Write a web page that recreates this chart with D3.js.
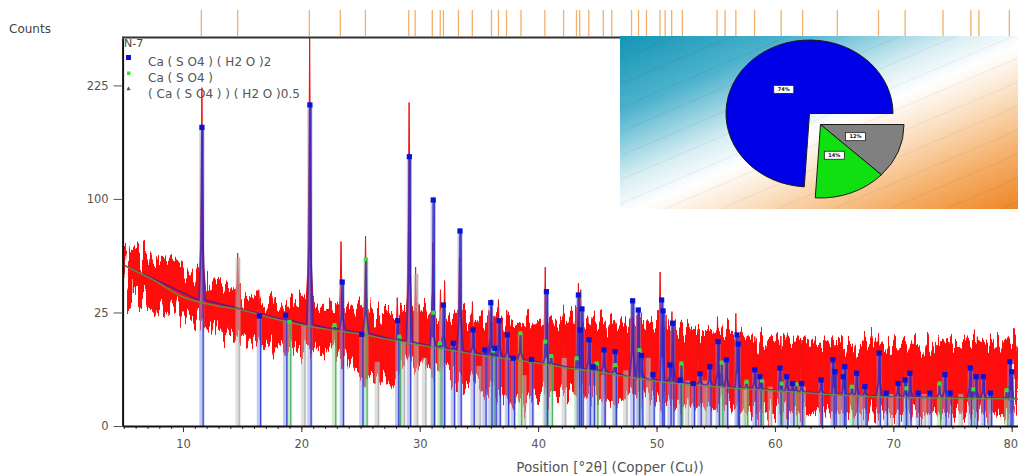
<!DOCTYPE html>
<html>
<head>
<meta charset="utf-8">
<script src="https://cdn.jsdelivr.net/npm/d3@7"></script>
<style>
  body { margin: 0; background: #fff; }
  svg { display: block; font-family: "DejaVu Sans", "Noto Sans", sans-serif; }
</style>
</head>
<body>
<svg id="chart" width="1018" height="476"></svg>
<script>
// ---------- data ----------
const yTicks = [0, 25, 100, 225];
const xTicks = [10, 20, 30, 40, 50, 60, 70, 80];

// reference pattern ticks (top strip), degrees 2theta
const refTicks = [11.55, 14.62, 20.67, 23.29, 25.41, 29.07, 29.61, 31.06, 31.73, 32.0, 33.27, 34.44,
  36.06, 36.65, 37.33, 38.55, 40.57, 42.15, 43.24, 43.51, 44.28, 45.5, 46.22, 47.89, 48.48, 49.15,
  50.29, 50.73, 51.28, 52.18, 55.11, 55.79, 56.7, 58.28, 60.53, 62.34, 65.27, 68.75, 71.0, 74.2,
  76.55, 77.23, 79.8];

// measured noise band: upper / lower edge (counts)
const envX = [4.9, ...d3.range(6, 80), 80.6];
const envTop = [63.6,60.1,56.7,54.8,52.2,50.3,47.2,41.4,38.6,35.9,
  33.3,31.8,30.8,29.4,28.4,30.8,28.4,27.0,28.4,26.1,
  28.4,25.2,22.6,22.6,25.2,27.0,26.1,25.2,23.9,22.6,
  22.6,21.8,21.0,21.8,21.0,21.8,21.0,21.8,22.6,21.8,
  21.0,19.8,21.0,21.8,19.8,21.0,19.8,18.6,17.9,17.9,
  17.1,17.9,16.1,15.0,14.4,15.0,14.4,14.4,13.7,12.7,
  14.4,13.7,12.7,14.4,13.7,12.7,13.4,12.7,12.1,14.4,
  12.7,13.7,14.4,13.4,13.7,14.4];
const envBot = [30.8,30.8,28.4,27.0,25.2,23.5,22.6,19.8,17.1,16.1,
  15.0,13.7,12.7,11.2,10.6,12.7,11.2,12.7,11.2,7.2,
  6.5,5.0,4.1,5.0,8.5,7.9,6.5,5.7,5.0,3.3,
  2.8,2.2,1.3,0.63,1.3,1.9,1.9,2.2,2.2,1.9,
  1.5,1.3,1.5,1.9,1.3,1.1,1.3,0.86,0.63,0.86,
  0.86,0.63,0.5,0.38,0.38,0.33,0.33,0.3,0.33,0.3,
  0.3,0.3,0.33,0.3,0.3,0.28,0.3,0.28,0.28,0.3,
  0.28,0.3,0.28,0.3,0.28,0.3];

// fitted background
const bgX = [4.9, 7.5, 10, 12.5, 15, 17.5, 20, 22.5, 25, 27.5, 30, 32.5, 35, 37.5, 40, 42.5, 45, 47.5, 50, 55, 60, 65, 70, 75, 80.6];
const bgY = [50.5, 41.4, 32.3, 28.4, 26.1, 22.6, 19.8, 17.9, 16.4, 14.4, 12.7, 11.2, 9.8, 8.7, 7.7, 6.5, 5.7, 4.7, 3.9, 3.0, 2.4, 1.9, 1.6, 1.5, 1.4];

// measured peak tops
const peakPos = [11.6,14.62,16.4,20.7,23.35,25.42,28.1,29.1,29.65,31.1,31.75,32.1,33.35,34.45,36.05,36.65,37.35,
  40.6,42.15,43.4,43.6,44.2,45.6,46.3,47.9,48.5,50.3,50.8,51.3,53.5,55.15,56.7,58.3,60.5,62.2,64.8,68.75,71.0,74.3,77.1,79.8];
const peakTop = [222,58,36,300,66,70,32,203,49,65,36,41,55,30,31,31,26,
  49,23,39.5,36,23,19,20,31.6,27,46,24,25.4,18,23.2,24.6,15.5,15.7,14.4,12.7,16.7,14,13.8,15.5,13.8];

// phase stick patterns
const gypsumPos = [11.6,16.45,18.67,20.72,23.45,25.1,28.13,29.12,31.14,32.0,32.83,33.4,34.5,35.5,36.0,36.35,36.7,37.4,37.9,39.45,
  40.7,43.4,43.55,43.7,44.3,44.65,45.56,46.5,47.98,48.46,48.74,49.7,50.43,50.55,51.13,51.36,51.98,53.1,53.67,54.5,
  55.2,55.9,56.8,56.9,58.3,58.73,60.42,61.0,61.5,62.25,63.9,64.9,65.07,65.77,65.9,66.9,67.6,68.8,69.4,70.4,
  71.0,71.4,72.1,73.1,74.36,74.8,76.5,77.0,77.6,78.2,79.85,80.0];
const gypsumInt = [173,23.5,23.8,200,40.2,16.3,21.5,140.7,99.1,28.4,13.3,73.8,17.9,11.2,29.5,11.7,21.5,16.1,8.9,8.6,
  35.0,33.3,17.9,26.6,14.4,6.8,11.2,10.7,30.4,26.1,9.6,5.1,30.8,25.7,7.2,20.5,4.1,3.5,5.3,6.8,
  13.8,8.5,16.1,13.0,6.1,4.7,6.5,4.7,3.5,3.5,4.1,8.5,5.7,4.7,6.8,5.4,3.0,10.3,2.1,3.5,
  4.1,5.4,2.1,2.1,5.1,2.1,6.5,4.7,4.7,2.1,8.0,5.7];
const anhydritePos = [19.0,22.8,25.45,28.27,31.14,31.7,36.2,38.5,40.6,41.1,43.25,44.94,46.5,48.55,52.1,55.5,57.6,58.9,60.57,61.8,66.5,71.1,73.9,76.75,79.57];
const anhydriteInt = [21.1,19.8,53.9,15.5,24.9,13.3,11.0,16.7,13.8,9.5,8.9,7.6,7.2,11.2,7.6,7.8,3.8,4.0,3.5,3.4,3.0,2.75,3.5,2.6,2.5];
const bassanitePos = [14.65,20.2,26.4,28.6,29.7,30.4,31.85,35.0,38.8,42.2,45.5,47.4,49.3,52.6,54.1,55.5,57.4,59.6,62.4,65.4,67.2,69.8,72.6,75.7,78.1];
const bassaniteInt = [55,20,8,14,45,9,26,7,5,9,5,6,9,4,4,3,3,3,3,2,2,2,2,2,2];

// legend + phase quantification (pie)
const legendNames = ["Ca ( S O4 ) ( H2 O )2", "Ca ( S O4 )", "( Ca ( S O4 ) ) ( H2 O )0.5"];
const phaseShares = [12, 14, 74];          // bassanite, anhydrite, gypsum
const phaseColors = ["#808080", "#10e010", "#0000e6"];
const phaseExploded = [true, true, false];

// ---------- scales ----------
const svg = d3.select("#chart");
const x = d3.scaleLinear().domain([4.9, 80.6]).range([122.6, 1018.8]);
const y = d3.scaleSqrt().domain([0, 292]).range([426, 38]);
const bgAt = d3.scaleLinear().domain(bgX).range(bgY);

const defs = svg.append("defs");
defs.append("clipPath").attr("id", "plotClip")
  .append("rect").attr("x", 123).attr("y", 38).attr("width", 896).attr("height", 388);
defs.append("clipPath").attr("id", "insetClip")
  .append("rect").attr("x", 620).attr("y", 36).attr("width", 400).attr("height", 173);

// jagged look for the noise band
const f = defs.append("filter").attr("id", "noisy")
  .attr("x", "-2%").attr("y", "-40%").attr("width", "104%").attr("height", "180%");
f.append("feTurbulence").attr("type", "fractalNoise").attr("baseFrequency", "0.3 0.012")
  .attr("numOctaves", 2).attr("seed", 7).attr("result", "n");
f.append("feDisplacementMap").attr("in", "SourceGraphic").attr("in2", "n").attr("scale", 50)
  .attr("xChannelSelector", "R").attr("yChannelSelector", "G");

const grad = defs.append("linearGradient").attr("id", "insetGrad")
  .attr("gradientUnits", "userSpaceOnUse")
  .attr("x1", 620).attr("y1", 38).attr("x2", 744).attr("y2", 328);
[[0, "#1595b6"], [0.22, "#4fb3cd"], [0.42, "#d8eef3"], [0.52, "#ffffff"], [0.64, "#fbe2c6"], [0.82, "#f5b06a"], [1, "#ee8424"]]
  .forEach(s => grad.append("stop").attr("offset", s[0]).attr("stop-color", s[1]));

// ---------- labels outside plot ----------
svg.append("text").attr("x", 9).attr("y", 33).attr("font-size", 12).attr("fill", "#444").text("Counts");

svg.append("g").selectAll("line").data(refTicks).join("line")
  .attr("x1", d => x(d)).attr("x2", d => x(d))
  .attr("y1", 10).attr("y2", 36)
  .attr("stroke", "#f2b06a").attr("stroke-width", 1.3);

// legend (drawn under the data)
const lg = svg.append("g").attr("fill", "#555").attr("font-size", 12);
lg.append("text").attr("x", 124).attr("y", 47).attr("fill", "#444").attr("font-size", 11).text("N-7");
legendNames.forEach((name, i) => {
  lg.append("text").attr("x", 148).attr("y", 66 + i * 16).text(name);
});
lg.append("rect").attr("x", 126).attr("y", 55).attr("width", 5).attr("height", 5).attr("fill", "#0a10d8");
lg.append("rect").attr("x", 127).attr("y", 71.5).attr("width", 3.5).attr("height", 3.5).attr("fill", "#3ddc3d");
lg.append("path").attr("d", d3.symbol(d3.symbolTriangle, 8)()).attr("transform", "translate(128.5,89)").attr("fill", "#555");

// ---------- plot ----------
const plot = svg.append("g").attr("clip-path", "url(#plotClip)");

// noise band
const band = envX.map((t, i) => ({ t, lo: envBot[i], hi: envTop[i] }));
plot.append("g").append("path")
  .datum(band)
  .attr("d", d3.area().x(d => x(d.t)).y0(d => y(d.lo)).y1(d => y(d.hi)))
  .attr("fill", "#ff0a0a")
  .attr("filter", "url(#noisy)");

// measured peaks
const spike = (p, h, w) => {
  const b = bgAt(p);
  return [[p - w, b], [p - w * 0.4, b + (h - b) * 0.1], [p - w * 0.16, b + (h - b) * 0.4], [p, h],
          [p + w * 0.16, b + (h - b) * 0.4], [p + w * 0.4, b + (h - b) * 0.1], [p + w, b]];
};
const lineXY = d3.line().x(d => x(d[0])).y(d => y(d[1]));
plot.append("g").selectAll("path").data(peakPos.map((p, i) => spike(p, peakTop[i], 0.4))).join("path")
  .attr("d", lineXY).attr("fill", "#ff1a1a").attr("stroke", "#f01010").attr("stroke-width", 1);

// stick patterns
function sticks(pos, val, light, dark, op) {
  const g = plot.append("g");
  g.selectAll("rect").data(pos).join("rect")
    .attr("x", d => x(d) - 2.6).attr("width", 5.2)
    .attr("y", (d, i) => y(val[i])).attr("height", (d, i) => y(0) - y(val[i]))
    .attr("fill", light).attr("opacity", 0.5);
  g.selectAll("line").data(pos).join("line")
    .attr("x1", d => x(d) + 1.2).attr("x2", d => x(d) + 1.2)
    .attr("y1", (d, i) => y(val[i])).attr("y2", y(0))
    .attr("stroke", dark).attr("stroke-width", 1.3).attr("opacity", op);
}
sticks(bassanitePos, bassaniteInt, "#c2c2c2", "#9a9a9a", 0.6);
sticks(anhydritePos, anhydriteInt, "#9bdc9b", "#35a550", 0.8);
sticks(gypsumPos, gypsumInt, "#8e98e6", "#2330d0", 0.85);

// calculated profile
const calcPts = [[4.9, bgAt(4.9)], [80.6, bgAt(80.6)]];
gypsumPos.concat(anhydritePos).forEach((p, i) => {
  const h = i < gypsumPos.length ? gypsumInt[i] : anhydriteInt[i - gypsumPos.length];
  const b = bgAt(p);
  if (h <= b * 1.05) return;
  calcPts.push([p - 0.25, b * 1.03], [p - 0.06, b + (h - b) * 0.25], [p, h], [p + 0.06, b + (h - b) * 0.25], [p + 0.25, b * 1.03]);
});
calcPts.sort((a, b) => a[0] - b[0]);
plot.append("path").datum(calcPts).attr("d", lineXY)
  .attr("fill", "none").attr("stroke", "#3318b0").attr("stroke-width", 1.8).attr("opacity", 0.7);

// background
plot.append("path").datum(bgX.map((t, i) => [t, bgY[i]]))
  .attr("d", d3.line().x(d => x(d[0])).y(d => y(d[1])).curve(d3.curveMonotoneX))
  .attr("fill", "none").attr("stroke", "#6f8f3c").attr("stroke-width", 1.5).attr("opacity", 0.9);

// markers
plot.append("g").selectAll("rect").data(anhydritePos).join("rect")
  .attr("x", d => x(d) - 2).attr("y", (d, i) => y(anhydriteInt[i]) - 2)
  .attr("width", 4).attr("height", 4).attr("fill", "#3ddc3d");
plot.append("g").selectAll("rect").data(gypsumPos).join("rect")
  .attr("x", d => x(d) - 2.6).attr("y", (d, i) => y(gypsumInt[i]) - 2.6)
  .attr("width", 5.2).attr("height", 5.2).attr("fill", "#0a12d8");

// ---------- inset with pie ----------
const inset = svg.append("g").attr("clip-path", "url(#insetClip)");
inset.append("rect").attr("x", 620).attr("y", 36).attr("width", 400).attr("height", 173).attr("fill", "url(#insetGrad)");
inset.append("g").selectAll("line").data(d3.range(0, 16)).join("line")
  .attr("x1", 620).attr("y1", k => 60 + k * 24)
  .attr("x2", 1018).attr("y2", k => 60 + k * 24 - 170)
  .attr("stroke", "#000").attr("stroke-opacity", 0.06).attr("stroke-width", 1);

const pcx = 809.5, pcy = 113.5, sy = 0.88, R = 83.5, off = [11, 12.5];
const pieArcs = d3.pie().sort(null).startAngle(Math.PI / 2).endAngle(Math.PI * 2.5)(phaseShares);
const arc = d3.arc().innerRadius(0).outerRadius(R);
const labelArc = d3.arc().innerRadius(R * 0.45).outerRadius(R * 0.45);
const pieG = inset.append("g").attr("transform", `translate(${pcx},${pcy}) scale(1,${sy})`);
pieG.selectAll("path").data(pieArcs).join("path")
  .attr("d", arc)
  .attr("transform", (d, i) => phaseExploded[i] ? `translate(${off[0]},${off[1]})` : null)
  .attr("fill", (d, i) => phaseColors[i])
  .attr("stroke", "#1a1a1a").attr("stroke-width", 1).attr("vector-effect", "non-scaling-stroke");

const labs = inset.append("g").selectAll("g").data(pieArcs).join("g")
  .attr("transform", (d, i) => {
    const c = labelArc.centroid(d);
    const ox = phaseExploded[i] ? off[0] : 0, oy = phaseExploded[i] ? off[1] : 0;
    return `translate(${pcx + c[0] + ox},${pcy + (c[1] + oy) * sy})`;
  });
labs.append("rect").attr("x", -10).attr("y", -4).attr("width", 20).attr("height", 8)
  .attr("fill", "#fff").attr("stroke", "#222").attr("stroke-width", 0.8);
labs.append("text").attr("text-anchor", "middle").attr("dy", "0.35em")
  .attr("font-size", 5).attr("font-weight", "bold").attr("fill", "#111").text(d => d.data + "%");

// ---------- axes ----------
const gy = svg.append("g").attr("transform", "translate(122.6,0)")
  .call(d3.axisLeft(y).tickValues(yTicks).tickSize(9).tickPadding(5).tickSizeOuter(0));
gy.attr("font-family", null).attr("font-size", 11.5);
gy.select(".domain").attr("stroke", "#111").attr("stroke-width", 2);
gy.selectAll(".tick line").attr("stroke", "#555");
gy.selectAll(".tick text").attr("fill", "#555");

const gxMinor = svg.append("g").attr("transform", "translate(0,426)")
  .call(d3.axisBottom(x).tickValues(d3.range(5, 81)).tickSize(3).tickFormat("").tickSizeOuter(0));
gxMinor.select(".domain").remove();
gxMinor.selectAll(".tick line").attr("stroke", "#333");

const gx = svg.append("g").attr("transform", "translate(0,426)")
  .call(d3.axisBottom(x).tickValues(xTicks).tickSize(6).tickPadding(8).tickSizeOuter(0));
gx.attr("font-family", null).attr("font-size", 11.5);
gx.select(".domain").attr("stroke", "#111").attr("stroke-width", 2);
gx.selectAll(".tick line").attr("stroke", "#333");
gx.selectAll(".tick text").attr("fill", "#555");
// last label sits at the right edge; keep it inside the frame
gx.selectAll(".tick text").filter(d => d === 80).attr("text-anchor", "end").attr("dx", 6);

svg.append("line").attr("x1", 122).attr("x2", 620).attr("y1", 37.5).attr("y2", 37.5)
  .attr("stroke", "#333").attr("stroke-width", 2);

svg.append("text").attr("x", 610).attr("y", 472).attr("text-anchor", "middle")
  .attr("font-size", 13.5).attr("fill", "#555").text("Position [°2θ] (Copper (Cu))");
</script>
</body>
</html>
